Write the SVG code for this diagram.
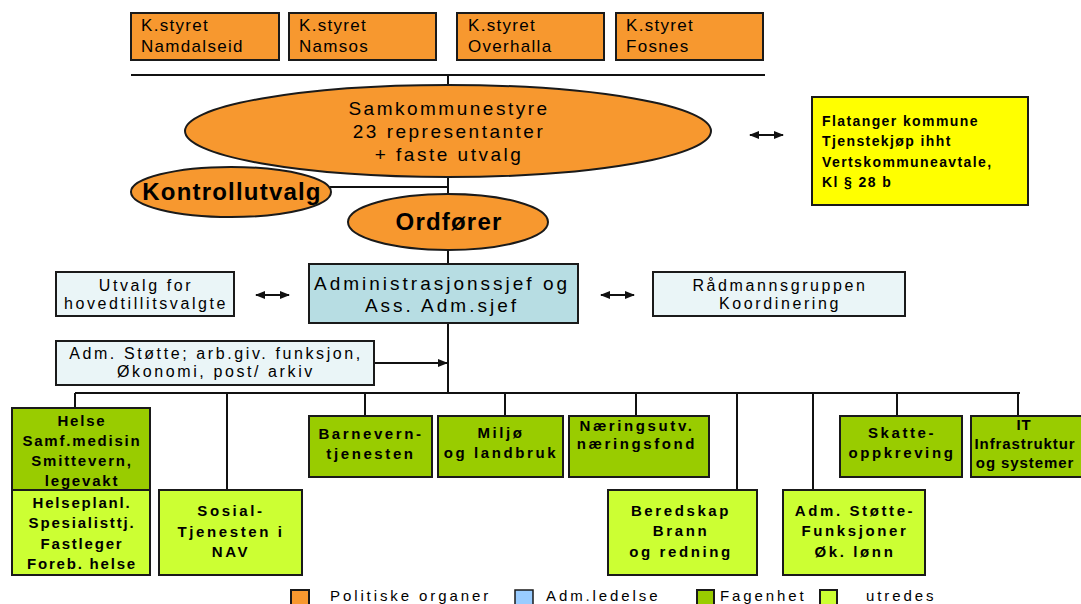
<svg xmlns="http://www.w3.org/2000/svg" width="1081" height="604" viewBox="0 0 1081 604">
<defs>
<style>
.t{font-family:"Liberation Sans",Arial,sans-serif;fill:#000;}
.box{stroke:#1a1a1a;stroke-width:2;}
.pol{fill:#F7982F;}
.adm{fill:#B7DDE3;}
.lt{fill:#EAF5F7;}
.fag{fill:#99CC00;}
.utr{fill:#CCFF33;}
.yel{fill:#FFFF00;}
.ln{stroke:#111;stroke-width:2;fill:none;}
.k{font-size:17px;letter-spacing:1.3px;}
.e{font-size:19px;letter-spacing:2.5px;text-anchor:middle;}
.a{font-size:19px;letter-spacing:3px;text-anchor:middle;}
.eb{font-size:24px;font-weight:bold;letter-spacing:1.2px;text-anchor:middle;}
.s{font-size:16px;letter-spacing:2.6px;text-anchor:middle;}
.g{font-size:15px;font-weight:bold;letter-spacing:2.6px;text-anchor:middle;}
.h{letter-spacing:1.8px;}
.i{letter-spacing:0.9px;}
.y{font-size:14px;font-weight:bold;letter-spacing:1.4px;}
.lg{font-size:15px;letter-spacing:2.9px;}
</style>
<marker id="ah" viewBox="0 0 10 10" refX="9" refY="5" markerWidth="5" markerHeight="5" orient="auto-start-reverse">
<path d="M0,1 L10,5 L0,9 z" fill="#111"/>
</marker>
</defs>
<rect width="1081" height="604" fill="#fff"/>

<g id="connectors">
<line class="ln" x1="131" y1="75" x2="765" y2="75"/>
<line class="ln" x1="448" y1="75" x2="448" y2="264"/>
<line class="ln" x1="330" y1="187" x2="448" y2="187"/>
<line class="ln" x1="448" y1="323" x2="448" y2="393"/>
<line class="ln" x1="374" y1="363" x2="447" y2="363" marker-end="url(#ah)"/>
<line class="ln" x1="75" y1="393" x2="1020" y2="393"/>
<line class="ln" x1="75" y1="393" x2="75" y2="408"/>
<line class="ln" x1="227" y1="393" x2="227" y2="490"/>
<line class="ln" x1="365" y1="393" x2="365" y2="416"/>
<line class="ln" x1="505" y1="393" x2="505" y2="416"/>
<line class="ln" x1="636" y1="393" x2="636" y2="416"/>
<line class="ln" x1="737" y1="393" x2="737" y2="490"/>
<line class="ln" x1="813" y1="393" x2="813" y2="490"/>
<line class="ln" x1="897" y1="393" x2="897" y2="416"/>
<line class="ln" x1="1018" y1="393" x2="1018" y2="416"/>
<line class="ln" x1="750" y1="135" x2="783" y2="135" marker-start="url(#ah)" marker-end="url(#ah)"/>
<line class="ln" x1="256" y1="295" x2="289" y2="295" marker-start="url(#ah)" marker-end="url(#ah)"/>
<line class="ln" x1="601" y1="295" x2="634" y2="295" marker-start="url(#ah)" marker-end="url(#ah)"/>
</g>

<g id="ks-namdalseid"><rect class="box pol" x="131" y="13" width="148" height="47"/>
<text class="t k" x="141" y="31">K.styret</text><text class="t k" x="141" y="52">Namdalseid</text></g>
<g id="ks-namsos"><rect class="box pol" x="289" y="13" width="147" height="47"/>
<text class="t k" x="299" y="31">K.styret</text><text class="t k" x="299" y="52">Namsos</text></g>
<g id="ks-overhalla"><rect class="box pol" x="457" y="13" width="147" height="47"/>
<text class="t k" x="468" y="31">K.styret</text><text class="t k" x="468" y="52">Overhalla</text></g>
<g id="ks-fosnes"><rect class="box pol" x="616" y="13" width="147" height="47"/>
<text class="t k" x="626" y="31">K.styret</text><text class="t k" x="626" y="52">Fosnes</text></g>

<g id="samkommunestyre"><ellipse class="box pol" cx="448" cy="131" rx="263" ry="46"/>
<text class="t e" x="449" y="115">Samkommunestyre</text>
<text class="t e" x="449" y="138">23 representanter</text>
<text class="t e" x="449" y="161">+ faste utvalg</text></g>

<g id="kontrollutvalg"><ellipse class="box pol" cx="231" cy="192" rx="100" ry="25"/>
<text class="t eb" x="232" y="200">Kontrollutvalg</text></g>

<g id="ordforer"><ellipse class="box pol" cx="448" cy="222" rx="100" ry="28"/>
<text class="t eb" x="449" y="230">Ordfører</text></g>

<g id="flatanger"><rect class="box yel" x="812" y="97" width="216" height="108"/>
<text class="t y" x="822" y="126">Flatanger kommune</text>
<text class="t y" x="822" y="146">Tjenstekjøp ihht</text>
<text class="t y" x="822" y="167">Vertskommuneavtale,</text>
<text class="t y" x="822" y="187">Kl § 28 b</text></g>

<g id="admsjef"><rect class="box adm" x="309" y="264" width="269" height="59"/>
<text class="t a" x="442" y="290">Administrasjonssjef og</text>
<text class="t a" x="442" y="312">Ass. Adm.sjef</text></g>

<g id="utvalg-htv"><rect class="box lt" x="56" y="272" width="178" height="44"/>
<text class="t s" x="146" y="291">Utvalg for</text>
<text class="t s" x="146" y="309">hovedtillitsvalgte</text></g>

<g id="radmannsgruppen"><rect class="box lt" x="653" y="272" width="252" height="44"/>
<text class="t s" x="780" y="291">Rådmannsgruppen</text>
<text class="t s" x="780" y="309">Koordinering</text></g>

<g id="adm-stotte"><rect class="box lt" x="56" y="341" width="318" height="44"/>
<text class="t s" x="216" y="359">Adm. Støtte; arb.giv. funksjon,</text>
<text class="t s" x="216" y="377">Økonomi, post/ arkiv</text></g>

<g id="helse"><rect class="box fag" x="12" y="408" width="138" height="82"/>
<text class="t g h" x="82" y="426">Helse</text>
<text class="t g h" x="82" y="446">Samf.medisin</text>
<text class="t g h" x="82" y="466">Smittevern,</text>
<text class="t g h" x="82" y="486">legevakt</text></g>

<g id="helseplan"><rect class="box utr" x="12" y="490" width="138" height="85"/>
<text class="t g h" x="82" y="508">Helseplanl.</text>
<text class="t g h" x="82" y="528">Spesialisttj.</text>
<text class="t g h" x="82" y="549">Fastleger</text>
<text class="t g h" x="82" y="569">Foreb. helse</text></g>

<g id="sosial"><rect class="box utr" x="159" y="490" width="143" height="85"/>
<text class="t g" x="231" y="516">Sosial-</text>
<text class="t g" x="231" y="537">Tjenesten i</text>
<text class="t g" x="231" y="557">NAV</text></g>

<g id="barnevern"><rect class="box fag" x="309" y="416" width="123" height="61"/>
<text class="t g" x="371" y="439">Barnevern-</text>
<text class="t g" x="371" y="459">tjenesten</text></g>

<g id="miljo"><rect class="box fag" x="438" y="416" width="125" height="61"/>
<text class="t g" x="501" y="438">Miljø</text>
<text class="t g" x="501" y="458">og landbruk</text></g>

<g id="naering"><rect class="box fag" x="569" y="416" width="140" height="61"/>
<text class="t g" x="637" y="431">Næringsutv.</text>
<text class="t g" x="637" y="449">næringsfond</text></g>

<g id="beredskap"><rect class="box utr" x="608" y="490" width="149" height="85"/>
<text class="t g" x="681" y="516">Beredskap</text>
<text class="t g" x="681" y="536">Brann</text>
<text class="t g" x="681" y="557">og redning</text></g>

<g id="adm-stotte-funk"><rect class="box utr" x="783" y="490" width="142" height="85"/>
<text class="t g" x="855" y="516">Adm. Støtte-</text>
<text class="t g" x="855" y="536">Funksjoner</text>
<text class="t g" x="855" y="557">Øk. lønn</text></g>

<g id="skatt"><rect class="box fag" x="840" y="416" width="122" height="61"/>
<text class="t g" x="902" y="438">Skatte-</text>
<text class="t g" x="902" y="458">oppkreving</text></g>

<g id="it"><rect class="box fag" x="971" y="416" width="140" height="61"/>
<text class="t g i" x="1024" y="430">IT</text>
<text class="t g i" x="1025" y="449">Infrastruktur</text>
<text class="t g i" x="1025" y="468">og systemer</text></g>

<g id="legend">
<rect class="box pol" x="291" y="590" width="18" height="18" stroke-width="1.5"/>
<text class="t lg" x="330" y="601">Politiske organer</text>
<rect x="515" y="590" width="18" height="18" fill="#99CCFF" stroke="#1a1a1a" stroke-width="1.5"/>
<text class="t lg" x="546" y="601">Adm.ledelse</text>
<rect class="box fag" x="697" y="590" width="17" height="18" stroke-width="1.5"/>
<text class="t lg" x="720" y="601">Fagenhet</text>
<rect class="box utr" x="820" y="590" width="17" height="18" stroke-width="1.5"/>
<text class="t lg" x="866" y="601">utredes</text>
</g>
</svg>
